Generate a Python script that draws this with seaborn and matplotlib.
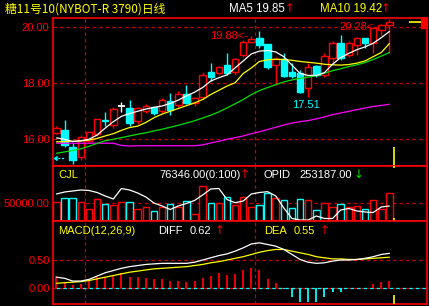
import matplotlib
matplotlib.use('Agg')
import matplotlib.pyplot as plt
import seaborn as sns
import numpy as np
import pandas as pd

# ---------------- data ----------------
opens  = [16.21,16.33,15.74,15.36,15.93,16.19,16.70,16.51,17.18,17.11,16.65,17.01,17.14,17.02,17.38,17.22,17.62,17.29,17.50,18.41,
          18.38,18.65,18.41,19.01,19.49,19.61,19.40,18.65,18.86,18.41,18.36,17.82,18.62,18.30,18.89,19.43,19.01,19.37,19.61,19.45,
          19.90,20.08]
closes = [16.39,15.80,15.27,16.07,16.27,16.71,16.67,17.08,17.18,16.57,17.11,17.19,16.95,17.40,17.05,17.62,17.29,17.46,18.30,18.24,
          18.59,18.38,18.86,19.49,19.57,19.37,18.59,18.86,18.26,18.26,17.70,18.59,18.30,18.98,19.45,18.89,19.43,19.61,19.45,19.96,
          20.08,20.20]
highs  = [16.49,16.69,15.86,16.15,16.30,16.73,16.99,17.14,17.34,17.40,17.16,17.26,17.16,17.46,17.64,17.74,17.94,17.52,18.41,18.71,
          18.62,19.07,18.90,19.55,19.70,19.88,19.42,18.95,19.07,18.74,18.46,18.74,18.65,19.09,19.50,19.73,19.50,19.66,19.63,19.98,
          20.10,20.28]
lows   = [16.18,15.74,15.10,15.26,15.91,16.13,16.48,16.39,16.99,16.48,16.54,16.93,16.87,16.95,16.87,17.15,17.25,17.20,17.45,18.09,
          18.30,18.30,18.30,18.95,19.45,19.25,18.50,17.94,18.24,18.20,17.64,17.51,18.24,18.22,18.71,18.83,18.95,19.01,19.25,19.09,
          19.73,19.07]

ma5  = [16.05,16.00,15.92,15.95,16.00,16.15,16.40,16.63,16.82,16.92,17.00,17.08,17.14,17.19,17.28,17.40,17.55,17.68,17.85,18.08,
        18.20,18.30,18.55,18.80,19.05,19.15,19.17,19.12,18.95,18.65,18.35,18.28,18.28,18.38,18.68,18.92,19.07,19.20,19.30,19.43,
        19.63,19.85]
ma10 = [15.91,15.92,15.93,15.94,15.97,16.03,16.12,16.20,16.32,16.42,16.47,16.60,16.77,16.90,17.00,17.10,17.20,17.30,17.42,17.60,
        17.75,17.90,18.02,18.35,18.55,18.78,18.84,18.86,18.85,18.82,18.78,18.75,18.72,18.68,18.66,18.65,18.67,18.72,18.80,18.95,
        19.10,19.42]
ma20 = [15.50,15.55,15.60,15.66,15.75,15.85,15.95,16.00,16.06,16.12,16.18,16.23,16.30,16.36,16.43,16.50,16.58,16.66,16.76,16.86,
        16.98,17.12,17.27,17.42,17.60,17.74,17.85,17.95,18.05,18.12,18.18,18.22,18.27,18.36,18.45,18.52,18.60,18.66,18.74,18.85,
        18.97,19.10]
ma60 = [15.86,15.86,15.86,15.86,15.86,15.86,15.86,15.86,15.78,15.76,15.77,15.77,15.77,15.77,15.77,15.77,15.77,15.77,15.80,15.87,
        15.93,16.00,16.06,16.12,16.20,16.27,16.35,16.43,16.51,16.58,16.63,16.67,16.73,16.80,16.88,16.94,17.00,17.06,17.12,17.17,
        17.21,17.25]

volume = [52800,62000,62000,52800,32000,59300,45600,43700,52800,52800,32000,37400,28200,39000,46400,37400,54600,19000,95600,48300,
          48300,64700,43700,64700,37400,43700,75700,62000,57400,34600,59300,57400,30000,50000,37400,46400,39000,41000,32000,57400,
          32000,76346]
opid = [265200,267200,268200,269200,268700,266700,263200,260200,270700,269200,266200,262200,256200,253200,249700,253200,255700,258700,264200,270200,
        270700,259700,256500,258200,265200,266700,267500,263200,251200,240700,239200,239200,243200,240700,240700,249200,250700,248200,247200,246700,
        252200,253187]

diff = [0.19,0.17,0.12,0.12,0.15,0.21,0.27,0.31,0.35,0.38,0.40,0.42,0.43,0.44,0.44,0.44,0.44,0.46,0.50,0.54,
        0.58,0.61,0.66,0.72,0.79,0.81,0.78,0.75,0.69,0.60,0.51,0.46,0.44,0.45,0.48,0.50,0.50,0.51,0.53,0.56,
        0.60,0.62]
dea  = [0.08,0.09,0.10,0.11,0.13,0.16,0.19,0.22,0.25,0.28,0.30,0.32,0.34,0.35,0.36,0.37,0.38,0.40,0.42,0.45,
        0.47,0.50,0.53,0.56,0.60,0.64,0.67,0.69,0.69,0.66,0.63,0.60,0.56,0.54,0.52,0.52,0.51,0.51,0.52,0.53,
        0.54,0.55]
macd = [0.21,0.09,0.05,0.07,0.14,0.19,0.20,0.23,0.26,0.19,0.19,0.17,0.15,0.15,0.12,0.12,0.10,0.13,0.17,0.21,
        0.26,0.23,0.25,0.32,0.35,0.32,0.15,0.08,-0.03,-0.16,-0.25,-0.25,-0.25,-0.16,-0.07,-0.07,-0.01,-0.005,-0.005,0.07,
        0.11,0.13]

price_ticks = [16.0, 18.0, 20.0]
vol_ticks = [50000]
macd_ticks = [0.0, 0.5]
title = "糖11号10(NYBOT-R 3790)日线"

# ---------------- styling ----------------
W, H = 429, 306
sns.set_theme(style='dark')
plt.rcParams['font.family'] = ['Liberation Sans', 'Noto Sans CJK SC', 'DejaVu Sans']
plt.rcParams['lines.scale_dashes'] = False
RED = '#ff0000'
GRID = '#c80000'
CYAN = '#00ffff'
YEL = '#ffff00'
WHITE = '#ffffff'
GREEN = '#00e000'
MAG = '#ff00ff'
DASH = (0, (2.5, 2.2))
ARROWFONT = ['DejaVu Sans']

df = pd.DataFrame({'i': np.arange(len(closes)), 'o': opens, 'c': closes, 'h': highs, 'l': lows,
                   'ma5': ma5, 'ma10': ma10, 'ma20': ma20, 'ma60': ma60,
                   'vol': volume, 'opid': opid, 'diff': diff, 'dea': dea, 'macd': macd})

fig = plt.figure(figsize=(W / 100, H / 100), dpi=100, facecolor='black')

def fx(px):
    return px / W

def fy(py):
    return 1 - py / H

XL = (-0.43, 45.63)

def make_ax(top, bottom):
    ax = fig.add_axes([fx(53), fy(bottom), (427 - 53) / W, (bottom - top) / H])
    ax.set_facecolor('black')
    for s in ax.spines.values():
        s.set_color(RED)
        s.set_linewidth(1.2)
    ax.set_xlim(*XL)
    ax.set_xticks([])
    ax.grid(False)
    ax.tick_params(axis='y', colors=RED, length=0, pad=2.5, labelsize=8)
    for v in (3.5, 24.5):
        ax.axvline(v, color=GRID, lw=0.9, ls=DASH, zorder=0)
    return ax

# ---------------- main price panel ----------------
ax = make_ax(18, 166)
ax.set_ylim(15.046, 20.332)
ax.set_yticks(price_ticks)
ax.set_yticklabels([f"{v:.2f}" for v in price_ticks])
for v in price_ticks:
    ax.axhline(v, color=GRID, lw=0.9, ls=DASH, zorder=0)

bw = 0.8
for r in df.itertuples():
    if r.c > r.o:
        col = RED
    elif r.c < r.o:
        col = CYAN
    else:
        col = WHITE
    top, bot = max(r.o, r.c), min(r.o, r.c)
    ax.vlines(r.i, top, r.h, color=col, lw=1.0, zorder=2)
    ax.vlines(r.i, r.l, bot, color=col, lw=1.0, zorder=2)
    if top - bot < 0.02:
        ax.hlines((top + bot) / 2, r.i - bw / 2, r.i + bw / 2, color=col, lw=1.3, zorder=3)
    else:
        ax.bar(r.i, top - bot, bottom=bot, width=bw,
               facecolor=('black' if col == RED else col), edgecolor=col, lw=1.0, zorder=3)

for col_name, c in (('ma60', MAG), ('ma20', GREEN), ('ma10', YEL), ('ma5', WHITE)):
    sns.lineplot(data=df, x='i', y=col_name, ax=ax, color=c, lw=0.9, zorder=4)
ax.set_xlabel('')
ax.set_ylabel('')

# highs / lows annotations
ax.text(23.6, 19.69, "19.88<-", color=RED, fontsize=8, ha='right', va='center')
ax.text(39.5, 20.02, "20.28<-", color=RED, fontsize=8, ha='right', va='center')
ax.text(30.7, 17.22, "17.51", color=CYAN, fontsize=8, ha='center', va='center')

# left cyan continuation marker
ax.plot([-0.25, 0.9], [15.33, 15.33], color=CYAN, lw=0.9, ls=(0, (1.5, 1.2)), zorder=4)
ax.plot([-0.25], [15.33], marker=4, color=CYAN, ms=3, zorder=4)
# cursor markers on the right
ax.vlines(41.56, 15.046, 15.72, color=YEL, lw=1.2, zorder=5)
ax.hlines(20.19, 43.4, 44.9, color=YEL, lw=1.2)
ax.add_patch(plt.Rectangle((44.9, 19.97), 0.75, 0.37, color=RED, clip_on=False))

# ---------------- volume panel ----------------
axv = make_ax(166, 221)
axv.set_ylim(0, 150270)
axv.set_yticks(vol_ticks)
axv.set_yticklabels([f"{v:.2f}" for v in vol_ticks])
axv.axhline(50000, color=GRID, lw=0.9, ls=DASH, zorder=0)
for r in df.itertuples():
    col = RED if r.c >= r.o else CYAN
    axv.bar(r.i, r.vol, width=bw, facecolor='black', edgecolor=col, lw=1.0, zorder=2)
axv.vlines(41.56, 0, 8000, color=YEL, lw=1.2, zorder=5)
axv.vlines(41.56, 145000, 150270, color=YEL, lw=1.2, zorder=5)
axo = axv.twinx()
axo.set_xlim(*XL)
axo.set_ylim(238187, 293187)
axo.axis('off')
sns.lineplot(data=df, x='i', y='opid', ax=axo, color=WHITE, lw=0.9)
axo.set_xlabel('')
axo.set_ylabel('')

# ---------------- MACD panel ----------------
axm = make_ax(221, 304)
axm.set_ylim(-0.294, 1.204)
axm.set_yticks(macd_ticks)
axm.set_yticklabels([f"{v:.2f}" for v in macd_ticks])
axm.axhline(0.5, color=GRID, lw=0.9, ls=DASH, zorder=0)
axm.axhline(0.0, color=GRID, lw=0.9, ls=DASH, zorder=1)
axm.axhline(0.0, color=CYAN, lw=0.9, ls=(2.3, (2.5, 2.2)), zorder=1)
for r in df.itertuples():
    axm.vlines(r.i, 0, r.macd, color=(RED if r.macd > 0 else CYAN), lw=1.3, zorder=2)
sns.lineplot(data=df, x='i', y='dea', ax=axm, color=YEL, lw=0.9, zorder=3)
sns.lineplot(data=df, x='i', y='diff', ax=axm, color=WHITE, lw=0.9, zorder=4)
axm.set_xlabel('')
axm.set_ylabel('')
axm.vlines(41.56, -0.294, -0.13, color=YEL, lw=1.2, zorder=5)

# ---------------- header texts ----------------
fig.text(fx(5), fy(9), title, color=YEL, fontsize=8.5, va='center',
         family=['Noto Sans CJK SC', 'DejaVu Sans'])
fig.text(fx(229), fy(9), "MA5 19.85", color=WHITE, fontsize=8.3, va='center')
fig.text(fx(285), fy(9), "↑", color=RED, fontsize=8.5, va='center', family=ARROWFONT)
fig.text(fx(320), fy(9), "MA10 19.42", color=YEL, fontsize=8.3, va='center')
fig.text(fx(381), fy(9), "↑", color=RED, fontsize=8.5, va='center', family=ARROWFONT)

fig.text(fx(58), fy(175), "CJL", color=YEL, fontsize=8, va='center')
fig.text(fx(159), fy(175), "76346.00(0:100)", color=WHITE, fontsize=8, va='center')
fig.text(fx(240), fy(175), "↑", color=RED, fontsize=8.5, va='center', family=ARROWFONT)
fig.text(fx(264), fy(175), "OPID", color=WHITE, fontsize=8, va='center')
fig.text(fx(299), fy(175), "253187.00", color=WHITE, fontsize=8, va='center')
fig.text(fx(354), fy(175), "↓", color=GREEN, fontsize=8.5, va='center', family=ARROWFONT)

fig.text(fx(58), fy(231), "MACD(12,26,9)", color=YEL, fontsize=8, va='center')
fig.text(fx(158), fy(231), "DIFF", color=WHITE, fontsize=8, va='center')
fig.text(fx(190), fy(231), "0.62", color=WHITE, fontsize=8, va='center')
fig.text(fx(215), fy(231), "↑", color=RED, fontsize=8.5, va='center', family=ARROWFONT)
fig.text(fx(264), fy(231), "DEA", color=YEL, fontsize=8, va='center')
fig.text(fx(294), fy(231), "0.55", color=YEL, fontsize=8, va='center')
fig.text(fx(320), fy(231), "↑", color=RED, fontsize=8.5, va='center', family=ARROWFONT)

fig.savefig('out.png', dpi=100, facecolor='black')
